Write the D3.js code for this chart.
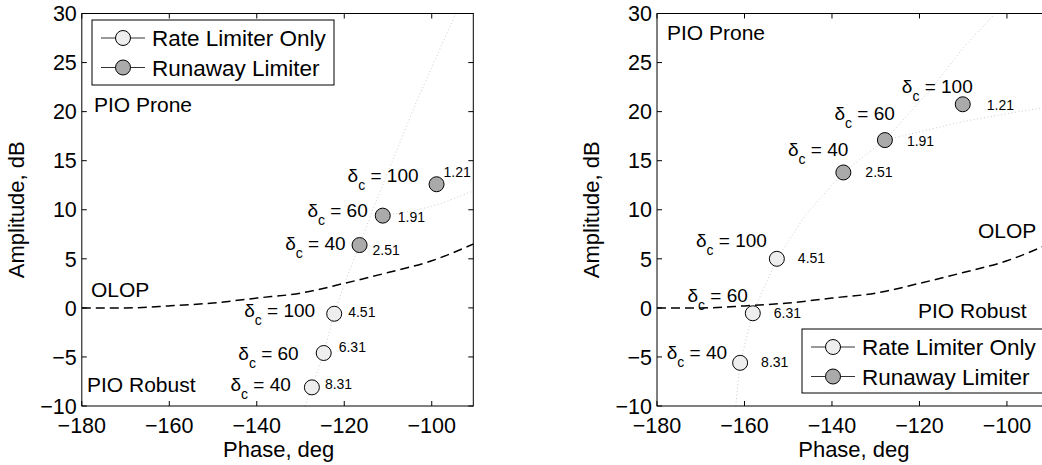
<!DOCTYPE html>
<html>
<head>
<meta charset="utf-8">
<script src="https://cdn.jsdelivr.net/npm/d3@7"></script>
<style>
  body { margin: 0; background: #fff; }
  text { font-family: "Liberation Sans", Arial, sans-serif; fill: #000; }
</style>
</head>
<body>
<svg id="chart" width="1042" height="465"></svg>
<script>
// axis ticks
const phaseTicks = [-180, -160, -140, -120, -100];
const ampTicks = [-10, -5, 0, 5, 10, 15, 20, 25, 30];

// commanded rate for each marker
const deltaC = [40, 60, 100];

// OLOP boundary
const olopPhase = [-180, -170, -160, -150, -140, -130, -120, -110, -100, -90];
const olopAmp = [0, 0, 0.2, 0.5, 1.0, 1.5, 2.5, 3.6, 4.8, 6.6];

// left panel
const leftRatePhase = [-127.4, -124.7, -122.3];
const leftRateAmp = [-8.1, -4.6, -0.6];
const leftRunPhase = [-116.5, -111.2, -98.9];
const leftRunAmp = [6.4, 9.4, 12.6];
const leftTraceAPhase = [-129, -127.4, -124.7, -122.3, -119.5, -116.5, -113.5, -108.5, -103.5, -98.5, -94.5];
const leftTraceAAmp = [-10, -8.1, -4.6, -0.6, 3, 6.4, 10, 15.5, 21, 26, 30];
const leftTraceBPhase = [-111.2, -104, -98, -90];
const leftTraceBAmp = [9.4, 9.9, 10.6, 12];

// right panel
const rightRatePhase = [-161.0, -158.1, -152.6];
const rightRateAmp = [-5.6, -0.55, 5.0];
const rightRunPhase = [-137.4, -127.9, -110.1];
const rightRunAmp = [13.8, 17.1, 20.75];
const rightTraceAPhase = [-162, -161.0, -158.1, -152.6, -146, -141, -137.4, -132, -127.9, -117, -110, -102.7];
const rightTraceAAmp = [-10, -5.6, -0.55, 5.0, 9.5, 12, 13.8, 15.7, 17.1, 22.5, 26.5, 30];
const rightTraceBPhase = [-127.9, -110, -98.6, -90];
const rightTraceBAmp = [17.1, 19, 19.9, 20.5];

// values printed next to markers
const rateValues = ["8.31", "6.31", "4.51"];
const runValues = ["2.51", "1.91", "1.21"];

// label offsets (px) relative to the marker: [deltaDx, deltaDy, valueDx, valueDy]
const leftRateOffsets = [[-21, 4, 13, 2], [-25, 7, 15, -1], [-19, 3, 14, 3]];
const leftRunOffsets = [[-14, 5, 13, 10], [-15, 1, 15, 6], [-18, -2, 7, -7]];
const rightRateOffsets = [[-13, -4, 21, 4], [-5, -11, 21, 5], [-10, -12, 21, 4]];
const rightRunOffsets = [[5, -16, 22, 5], [10, -20, 22, 6], [10, -11, 24, 6]];

const legendLabels = ["Rate Limiter Only", "Runaway Limiter"];
const rateFill = "#eeeeee";
const runFill = "#aaaaaa";

const svg = d3.select("#chart");
const plotTop = 13.5, plotBottom = 406;

const zip = (a, b) => a.map((v, i) => [v, b[i]]);

function drawPanel({ left, id, rate, run, traces, rateOff, runOff, notes, legend, ylabelX }) {
  const right = left + 391.5;
  const x = d3.scaleLinear().domain([-180, -90.5]).range([left, right]);
  const y = d3.scaleLinear().domain([-10, 30]).range([plotBottom, plotTop]);

  const g = svg.append("g");
  g.append("clipPath").attr("id", id)
    .append("rect").attr("x", left).attr("y", plotTop)
    .attr("width", right - left).attr("height", plotBottom - plotTop);

  const plot = g.append("g").attr("clip-path", `url(#${id})`);
  const line = d3.line().x(d => x(d[0])).y(d => y(d[1]));

  // dotted traces
  plot.selectAll(".trace").data(traces).join("path")
    .attr("d", line)
    .attr("fill", "none").attr("stroke", "#cccccc")
    .attr("stroke-width", 1).attr("stroke-dasharray", "1,2.5");

  // OLOP boundary
  plot.append("path")
    .attr("d", d3.line().curve(d3.curveMonotoneX).x(d => x(d[0])).y(d => y(d[1]))(zip(olopPhase, olopAmp)))
    .attr("fill", "none").attr("stroke", "#000")
    .attr("stroke-width", 1.5).attr("stroke-dasharray", "9,5");

  // markers + labels
  const drawSet = (pts, fill, offs, vals) => {
    plot.append("g").selectAll("circle").data(pts).join("circle")
      .attr("cx", d => x(d[0])).attr("cy", d => y(d[1])).attr("r", 7.5)
      .attr("fill", fill).attr("stroke", "#000").attr("stroke-width", 1);

    pts.forEach((d, i) => {
      const px = x(d[0]), py = y(d[1]), o = offs[i];
      const t = g.append("text")
        .attr("x", px + o[0]).attr("y", py + o[1])
        .attr("text-anchor", "end").attr("font-size", 19);
      t.append("tspan").text("\u03b4");
      t.append("tspan").attr("dy", 8).attr("font-size", 14).text("c");
      t.append("tspan").attr("dy", -8).text(" = " + deltaC[i]);
      g.append("text")
        .attr("x", px + o[2]).attr("y", py + o[3])
        .attr("font-size", 14).text(vals[i]);
    });
  };
  drawSet(rate, rateFill, rateOff, rateValues);
  drawSet(run, runFill, runOff, runValues);

  // box and inward ticks on all sides
  g.append("rect").attr("x", left).attr("y", plotTop)
    .attr("width", right - left).attr("height", plotBottom - plotTop)
    .attr("fill", "none").attr("stroke", "#000").attr("stroke-width", 1);

  const tk = 5;
  phaseTicks.forEach(v => {
    g.append("line").attr("x1", x(v)).attr("x2", x(v)).attr("y1", plotBottom).attr("y2", plotBottom - tk).attr("stroke", "#000");
    g.append("line").attr("x1", x(v)).attr("x2", x(v)).attr("y1", plotTop).attr("y2", plotTop + tk).attr("stroke", "#000");
    g.append("text").attr("x", x(v)).attr("y", 433)
      .attr("text-anchor", "middle").attr("font-size", 21.5)
      .text(d3.format("")(v));
  });
  ampTicks.forEach(v => {
    g.append("line").attr("x1", left).attr("x2", left + tk).attr("y1", y(v)).attr("y2", y(v)).attr("stroke", "#000");
    g.append("line").attr("x1", right).attr("x2", right - tk).attr("y1", y(v)).attr("y2", y(v)).attr("stroke", "#000");
    g.append("text").attr("x", left - 5).attr("y", y(v)).attr("dy", "0.36em")
      .attr("text-anchor", "end").attr("font-size", 21.5)
      .text(d3.format("")(v));
  });

  // axis titles
  g.append("text").attr("x", (left + left + 393.75) / 2).attr("y", 457)
    .attr("text-anchor", "middle").attr("font-size", 22).text("Phase, deg");
  g.append("text").attr("transform", `translate(${ylabelX},${(plotTop + plotBottom) / 2}) rotate(-90)`)
    .attr("text-anchor", "middle").attr("font-size", 22).text("Amplitude, dB");

  // region notes
  notes.forEach(n => {
    g.append("text").attr("x", n.x).attr("y", n.y).attr("font-size", 21).text(n.text);
  });

  // legend
  const lg = g.append("g");
  lg.append("rect").attr("x", legend.x).attr("y", legend.y)
    .attr("width", legend.w).attr("height", legend.h)
    .attr("fill", "#fff").attr("stroke", "#000").attr("stroke-width", 1);
  [rateFill, runFill].forEach((f, i) => {
    const ly = legend.y + 18 + i * 29.5;
    lg.append("line").attr("x1", legend.x + 9).attr("x2", legend.x + 53)
      .attr("y1", ly).attr("y2", ly).attr("stroke", "#333").attr("stroke-width", 1);
    lg.append("circle").attr("cx", legend.x + 31).attr("cy", ly).attr("r", 7.5)
      .attr("fill", f).attr("stroke", "#000");
    lg.append("text").attr("x", legend.x + 60).attr("y", ly).attr("dy", "0.36em")
      .attr("font-size", 22.5).text(legendLabels[i]);
  });
}

drawPanel({
  left: 81.8, id: "clipL",
  rate: zip(leftRatePhase, leftRateAmp),
  run: zip(leftRunPhase, leftRunAmp),
  traces: [zip(leftTraceAPhase, leftTraceAAmp), zip(leftTraceBPhase, leftTraceBAmp)],
  rateOff: leftRateOffsets, runOff: leftRunOffsets,
  notes: [
    { text: "PIO Prone", x: 94, y: 112 },
    { text: "OLOP", x: 91, y: 297 },
    { text: "PIO Robust", x: 87, y: 392 }
  ],
  legend: { x: 92, y: 20, w: 242, h: 65 },
  ylabelX: 24
});

drawPanel({
  left: 657, id: "clipR",
  rate: zip(rightRatePhase, rightRateAmp),
  run: zip(rightRunPhase, rightRunAmp),
  traces: [zip(rightTraceAPhase, rightTraceAAmp), zip(rightTraceBPhase, rightTraceBAmp)],
  rateOff: rightRateOffsets, runOff: rightRunOffsets,
  notes: [
    { text: "PIO Prone", x: 667, y: 40 },
    { text: "OLOP", x: 978, y: 238 },
    { text: "PIO Robust", x: 918, y: 318 }
  ],
  legend: { x: 802, y: 329, w: 258, h: 64 },
  ylabelX: 599
});
</script>
</body>
</html>
